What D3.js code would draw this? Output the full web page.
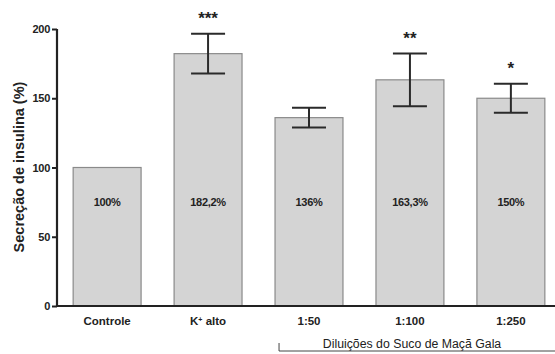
<!DOCTYPE html>
<html><head><meta charset="utf-8">
<script src="https://cdn.jsdelivr.net/npm/d3@7"></script>
<style>
body{margin:0;background:#fff;}
svg{display:block;font-family:"Liberation Sans",Arial,sans-serif;}
</style></head>
<body><svg id="c" width="555" height="354"></svg>
<script>
const categories = ["Controle", "K+ alto", "1:50", "1:100", "1:250"];
const values = [100, 182.2, 136, 163.3, 150];
const errors = [0, 14.4, 7.2, 19, 10.5];
const valueLabels = ["100%", "182,2%", "136%", "163,3%", "150%"];
const stars = ["", "***", "", "**", "*"];
const yTicks = [0, 50, 100, 150, 200];

const svg = d3.select("#c");
const y = d3.scaleLinear().domain([0, 200]).range([306, 29]);
const x = d3.scaleBand().domain(categories).range([57, 561]).paddingInner(0.327).paddingOuter(0.16);

// bars
svg.selectAll("rect.bar").data(categories).join("rect")
  .attr("x", d => x(d)).attr("width", x.bandwidth())
  .attr("y", (d,i) => y(values[i])).attr("height", (d,i) => y(0) - y(values[i]))
  .attr("fill", "#d4d4d4").attr("stroke", "#8a8a8a").attr("stroke-width", 1.2);

// error bars
const cap = 34;
categories.forEach((c, i) => {
  if (!errors[i]) return;
  const cx = x(c) + x.bandwidth() / 2;
  const g = svg.append("g").attr("stroke", "#2a2a2a").attr("stroke-width", 2);
  g.append("line").attr("x1", cx).attr("x2", cx).attr("y1", y(values[i] + errors[i])).attr("y2", y(values[i] - errors[i]));
  g.append("line").attr("x1", cx - cap/2).attr("x2", cx + cap/2).attr("y1", y(values[i] + errors[i])).attr("y2", y(values[i] + errors[i]));
  g.append("line").attr("x1", cx - cap/2).attr("x2", cx + cap/2).attr("y1", y(values[i] - errors[i])).attr("y2", y(values[i] - errors[i]));
  if (stars[i]) {
    svg.append("text").attr("x", cx).attr("y", y(values[i] + errors[i]) - 10)
      .attr("text-anchor", "middle").attr("font-size", 17).attr("font-weight", "bold").attr("fill", "#222")
      .text(stars[i]);
  }
});

// value labels
categories.forEach((c, i) => {
  svg.append("text").attr("x", x(c) + x.bandwidth()/2).attr("y", 206)
    .attr("text-anchor", "middle").attr("font-size", 11).attr("font-weight", "bold").attr("fill", "#222")
    .attr("letter-spacing", -0.3)
    .text(valueLabels[i]);
});

// y axis
const yAxis = svg.append("g").attr("transform", "translate(57,0)")
  .call(d3.axisLeft(y).tickValues(yTicks).tickSize(5).tickPadding(2));
yAxis.select(".domain").attr("stroke", "#222").attr("stroke-width", 2.2).attr("d", `M0,${y(200)}V${y(0)}`);
yAxis.selectAll(".tick line").attr("stroke", "#222").attr("stroke-width", 2);
yAxis.selectAll(".tick text").attr("font-size", 11).attr("font-weight", "bold").attr("fill", "#222")
  .attr("font-family", "Liberation Sans, Arial, sans-serif").attr("letter-spacing", -0.3);

// x axis line
svg.append("line").attr("x1", 56).attr("x2", 555).attr("y1", y(0)).attr("y2", y(0))
  .attr("stroke", "#222").attr("stroke-width", 2.2);

// x labels
categories.forEach((c, i) => {
  const t = svg.append("text").attr("x", x(c) + x.bandwidth()/2).attr("y", 325)
    .attr("text-anchor", "middle").attr("font-size", 11.5).attr("font-weight", "bold").attr("fill", "#222");
  if (c === "K+ alto") {
    t.append("tspan").text("K");
    t.append("tspan").attr("baseline-shift", "super").attr("font-size", 7).text("+");
    t.append("tspan").text(" alto");
  } else t.text(c);
});

// bracket
const bx0 = x("1:50") + 4;
svg.append("text").attr("x", 412).attr("y", 348).attr("text-anchor", "middle")
  .attr("font-size", 12.3).attr("fill", "#222").text("Diluições do Suco de Maçã Gala");
svg.append("path").attr("d", `M${bx0},343V351H555`).attr("fill", "none").attr("stroke", "#444").attr("stroke-width", 1);

// y title
svg.append("text").attr("transform", "translate(24,167) rotate(-90)").attr("text-anchor", "middle")
  .attr("font-size", 14.5).attr("font-weight", "bold").attr("fill", "#222")
  .text("Secreção de insulina (%)");
</script></body></html>
